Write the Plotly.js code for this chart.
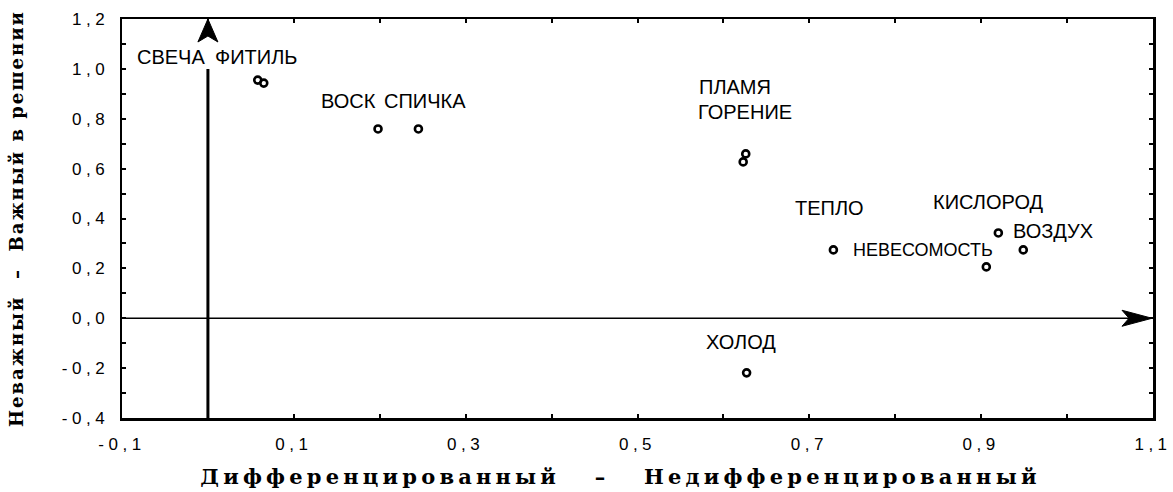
<!DOCTYPE html>
<html>
<head>
<meta charset="utf-8">
<script src="https://cdn.plot.ly/plotly-3.0.1.min.js"></script>
<style>
  html, body { margin: 0; padding: 0; background: #fff; }
  #chart { width: 1173px; height: 492px; }
  .xtick text, .ytick text { letter-spacing: 4.5px; }
  .xtitle { letter-spacing: 4.2px; transform: translate(-17px, 0px); }
  .ytitle { letter-spacing: 2px; }
</style>
</head>
<body>
<div id="chart"></div>
<script>
// ---- data ----
const labels = ['СВЕЧА', 'ФИТИЛЬ', 'ВОСК', 'СПИЧКА', 'ПЛАМЯ', 'ГОРЕНИЕ', 'ТЕПЛО', 'НЕВЕСОМОСТЬ', 'КИСЛОРОД', 'ВОЗДУХ', 'ХОЛОД'];
const xValues = [0.058, 0.065, 0.198, 0.245, 0.626, 0.623, 0.728, 0.906, 0.920, 0.949, 0.627];
const yValues = [0.955, 0.943, 0.759, 0.759, 0.659, 0.627, 0.274, 0.206, 0.342, 0.274, -0.219];

const xTickVals = [-0.1, 0, 0.1, 0.2, 0.3, 0.4, 0.5, 0.6, 0.7, 0.8, 0.9, 1.0, 1.1];
const xTickText = ['-0,1', '', '0,1', '', '0,3', '', '0,5', '', '0,7', '', '0,9', '', '1,1'];
const yTickVals = [-0.4, -0.3, -0.2, -0.1, 0, 0.1, 0.2, 0.3, 0.4, 0.5, 0.6, 0.7, 0.8, 0.9, 1.0, 1.1, 1.2];
const yTickText = ['-0,4', '', '-0,2', '', '0,0', '', '0,2', '', '0,4', '', '0,6', '', '0,8', '', '1,0', '', '1,2'];

const xTitle = 'Дифференцированный   –   Недифференцированный';
const yTitle = 'Неважный  –  Важный в решении';

// ---- label placement (pixel offsets from each point; layout only) ----
const labelPlacement = [
  {xanchor: 'right', xshift: -51, yshift: 23},
  {xanchor: 'left', xshift: -51, yshift: 26},
  {xanchor: 'left', xshift: -59, yshift: 28},
  {xanchor: 'right', xshift: 50, yshift: 28},
  {xanchor: 'left', xshift: -49, yshift: 67},
  {xanchor: 'left', xshift: -47, yshift: 50},
  {xanchor: 'center', xshift: -4, yshift: 42},
  {xanchor: 'right', xshift: 9, yshift: 17},
  {xanchor: 'center', xshift: -10, yshift: 31},
  {xanchor: 'left', xshift: -12, yshift: 19},
  {xanchor: 'center', xshift: -6, yshift: 31}
];

const labelFont = {family: 'Liberation Sans, Arial, sans-serif', size: 20, color: '#000'};

const annotations = labels.map((t, i) => ({
  x: xValues[i], y: yValues[i], xref: 'x', yref: 'y',
  text: t, showarrow: false,
  xanchor: labelPlacement[i].xanchor, yanchor: 'middle',
  xshift: labelPlacement[i].xshift, yshift: labelPlacement[i].yshift,
  font: i === 7 ? Object.assign({}, labelFont, {size: 18}) : labelFont
}));

const trace = {
  type: 'scatter', mode: 'markers',
  x: xValues, y: yValues, text: labels,
  marker: {symbol: 'circle-open', size: 7, color: '#000', line: {width: 2.6, color: '#000'}},
  hoverinfo: 'text', showlegend: false, cliponaxis: false
};

const shapes = [
  // vertical axis shaft at x = 0
  {type: 'line', xref: 'x', yref: 'y', x0: 0, x1: 0, y0: -0.4, y1: 1.0, line: {color: '#000', width: 3}},
  // horizontal axis shaft at y = 0
  {type: 'line', xref: 'x', yref: 'y', x0: -0.1, x1: 1.08, y0: 0, y1: 0, line: {color: '#000', width: 1.5}},
  // up arrowhead
  {type: 'path', xref: 'x', yref: 'y', xsizemode: 'pixel', ysizemode: 'pixel', xanchor: 0, yanchor: 1.2,
   path: 'M0,0 L-10,-23 L0,-17 L10,-23 Z', fillcolor: '#000', line: {color: '#000', width: 1}},
  // right arrowhead
  {type: 'path', xref: 'x', yref: 'y', xsizemode: 'pixel', ysizemode: 'pixel', xanchor: 1.1, yanchor: 0,
   path: 'M-1,0 L-31,8 L-24,0 L-31,-8 Z', fillcolor: '#000', line: {color: '#000', width: 1}}
];

const tickFont = {family: 'Liberation Sans, Arial, sans-serif', size: 17, color: '#000'};
const titleFont = {family: 'DejaVu Serif, serif', size: 21, color: '#000', weight: 'bold'};

const layout = {
  width: 1173, height: 492,
  margin: {l: 122, r: 20, t: 19, b: 74, pad: 0},
  paper_bgcolor: '#fff', plot_bgcolor: '#fff',
  showlegend: false,
  separators: ', ',
  xaxis: {
    range: [-0.1, 1.1], tickmode: 'array', tickvals: xTickVals, ticktext: xTickText,
    ticks: 'inside', ticklen: 4, tickwidth: 2, tickcolor: '#000',
    showline: true, linecolor: '#000', linewidth: 2.5, mirror: 'ticks',
    showgrid: false, zeroline: false, tickfont: tickFont, ticklabelstandoff: 9,
    title: {text: xTitle, font: titleFont, standoff: 17}
  },
  yaxis: {
    range: [-0.4, 1.2], tickmode: 'array', tickvals: yTickVals, ticktext: yTickText,
    ticks: 'inside', ticklen: 4, tickwidth: 2, tickcolor: '#000',
    showline: true, linecolor: '#000', linewidth: 2.5, mirror: 'ticks',
    showgrid: false, zeroline: false, tickfont: tickFont, ticklabelstandoff: 7,
    title: {text: yTitle, font: Object.assign({}, titleFont, {size: 18}), standoff: 34}
  },
  shapes: shapes,
  annotations: annotations
};

Plotly.newPlot('chart', [trace], layout, {staticPlot: true, displayModeBar: false});
</script>
</body>
</html>
